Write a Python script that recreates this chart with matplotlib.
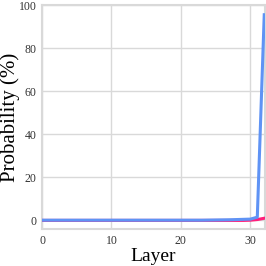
import matplotlib
matplotlib.use("Agg")
import matplotlib.pyplot as plt

layers = list(range(33))
blue_vals = [0.1]*24 + [0.15, 0.2, 0.25, 0.3, 0.4, 0.5, 0.6, 1.5, 95.5]
red_vals = [0.0]*30 + [0.1, 0.4, 1.0]
xticks = [0, 10, 20, 30]
yticks = [0, 20, 40, 60, 80, 100]

plt.rcParams['font.family'] = ['Liberation Serif', 'DejaVu Serif']
fig = plt.figure(figsize=(2.66, 2.66), dpi=100)
ax = fig.add_axes([0.158, 0.139, 0.838, 0.842])
ax.plot(layers, red_vals, color='#ff1f7a', lw=2.2, zorder=3)
ax.plot(layers, blue_vals, color='#5f93f5', lw=2.2, zorder=4)
ax.set_xlim(0, 32.1)
ax.set_ylim(-4, 100)
ax.set_xticks(xticks)
ax.set_yticks(yticks)
ax.grid(True, color='#d9d9d9', lw=1)
ax.set_axisbelow(True)
for s in ax.spines.values():
    s.set_color('#d9d9d9')
    s.set_linewidth(1.5)
ax.tick_params(length=0, labelsize=8.5, colors='#333333', pad=4)
ax.set_xlabel('Layer', fontsize=14, labelpad=1)
ax.set_ylabel('Probability (%)', fontsize=15)
ax.yaxis.set_label_coords(-0.1, 0.5)
fig.savefig('out.png', dpi=100)
